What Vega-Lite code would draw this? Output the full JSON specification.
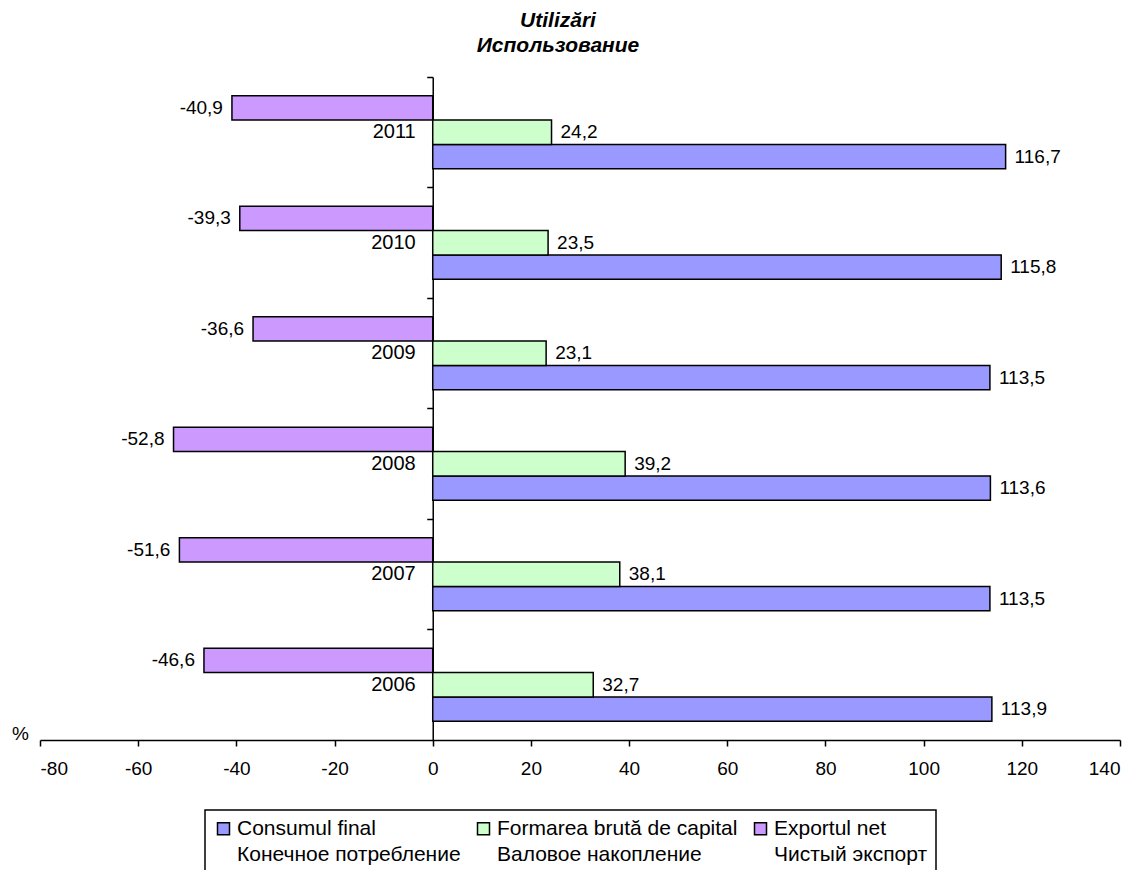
{
  "$schema": "https://vega.github.io/schema/vega-lite/v6.json",
  "width": 1080,
  "height": 663,
  "autosize": {"type": "none"},
  "padding": {"left": 40, "top": 77, "right": 21, "bottom": 130},
  "background": "white",
  "title": {
    "text": ["Utilizări", "Использование"],
    "font": "Liberation Sans",
    "fontSize": 21,
    "fontWeight": "bold",
    "fontStyle": "italic",
    "color": "black",
    "anchor": "middle",
    "frame": "group",
    "dx": -22,
    "offset": 20,
    "lineHeight": 25
  },
  "data": {
    "values": [
      {"year": "2011", "series": "Consumul final", "value": 116.7},
      {"year": "2011", "series": "Formarea brută de capital", "value": 24.2},
      {"year": "2011", "series": "Exportul net", "value": -40.9},
      {"year": "2010", "series": "Consumul final", "value": 115.8},
      {"year": "2010", "series": "Formarea brută de capital", "value": 23.5},
      {"year": "2010", "series": "Exportul net", "value": -39.3},
      {"year": "2009", "series": "Consumul final", "value": 113.5},
      {"year": "2009", "series": "Formarea brută de capital", "value": 23.1},
      {"year": "2009", "series": "Exportul net", "value": -36.6},
      {"year": "2008", "series": "Consumul final", "value": 113.6},
      {"year": "2008", "series": "Formarea brută de capital", "value": 39.2},
      {"year": "2008", "series": "Exportul net", "value": -52.8},
      {"year": "2007", "series": "Consumul final", "value": 113.5},
      {"year": "2007", "series": "Formarea brută de capital", "value": 38.1},
      {"year": "2007", "series": "Exportul net", "value": -51.6},
      {"year": "2006", "series": "Consumul final", "value": 113.9},
      {"year": "2006", "series": "Formarea brută de capital", "value": 32.7},
      {"year": "2006", "series": "Exportul net", "value": -46.6}
    ]
  },
  "encoding": {
    "y": {
      "field": "year",
      "type": "nominal",
      "sort": ["2011", "2010", "2009", "2008", "2007", "2006"],
      "scale": {"paddingInner": 0, "paddingOuter": 0},
      "axis": {
        "title": null,
        "labels": false,
        "offset": -392.73,
        "bandPosition": 0,
        "domainColor": "black",
        "domainWidth": 1.5,
        "tickColor": "black",
        "tickWidth": 1.5,
        "tickSize": 6,
        "grid": false
      }
    },
    "yOffset": {
      "field": "series",
      "type": "nominal",
      "sort": ["Exportul net", "Formarea brută de capital", "Consumul final"],
      "scale": {"paddingInner": 0, "paddingOuter": 0.775}
    },
    "x": {
      "field": "value",
      "type": "quantitative",
      "scale": {"domain": [-80, 140], "nice": false},
      "axis": {
        "values": [-80, -60, -40, -20, 0, 20, 40, 60, 80, 100, 120, 140],
        "format": "d",
        "grid": false,
        "title": "%",
        "titleX": -20,
        "titleY": -7,
        "titleAlign": "center",
        "titleBaseline": "middle",
        "titleFont": "Liberation Sans",
        "titleFontSize": 19,
        "titleFontWeight": "normal",
        "titleColor": "black",
        "labelFont": "Liberation Sans",
        "labelFontSize": 19,
        "labelColor": "black",
        "labelPadding": 13,
        "domainColor": "black",
        "domainWidth": 1.5,
        "tickColor": "black",
        "tickWidth": 1.5,
        "tickSize": 6
      }
    }
  },
  "layer": [
    {
      "mark": {"type": "bar", "stroke": "black", "strokeWidth": 1.5, "opacity": 1},
      "encoding": {
        "color": {
          "field": "series",
          "type": "nominal",
          "scale": {
            "domain": ["Consumul final", "Formarea brută de capital", "Exportul net"],
            "range": ["#9999FF", "#CCFFCC", "#CC99FF"]
          },
          "legend": {
            "title": null,
            "orient": "none",
            "legendX": 165,
            "legendY": 733,
            "direction": "horizontal",
            "columns": 3,
            "columnPadding": 12,
            "padding": 8,
            "strokeColor": "black",
            "symbolType": "square",
            "symbolSize": 144,
            "symbolStrokeColor": "black",
            "symbolStrokeWidth": 1.5,
            "symbolOpacity": 1,
            "labelFont": "Liberation Sans",
            "labelFontSize": 21,
            "labelColor": "black",
            "labelOffset": 3,
            "labelLimit": 400,
            "labelExpr": "datum.label == 'Consumul final' ? ['Consumul final', 'Конечное потребление'] : datum.label == 'Formarea brută de capital' ? ['Formarea brută de capital', 'Валовое накопление'] : ['Exportul  net', 'Чистый экспорт']"
          }
        }
      }
    },
    {
      "transform": [{"filter": "datum.value >= 0"}],
      "mark": {"type": "text", "align": "left", "baseline": "middle", "dx": 9, "font": "Liberation Sans", "fontSize": 19, "color": "black"},
      "encoding": {
        "text": {"field": "value", "type": "quantitative", "format": ".1f"}
      }
    },
    {
      "transform": [{"filter": "datum.value < 0"}],
      "mark": {"type": "text", "align": "right", "baseline": "middle", "dx": -9, "font": "Liberation Sans", "fontSize": 19, "color": "black"},
      "encoding": {
        "text": {"field": "value", "type": "quantitative", "format": ".1f"}
      }
    },
    {
      "transform": [{"filter": "datum.series == 'Formarea brută de capital'"}],
      "mark": {"type": "text", "align": "right", "baseline": "middle", "dx": -17, "font": "Liberation Sans", "fontSize": 20, "color": "black"},
      "encoding": {
        "x": {"datum": 0},
        "text": {"field": "year", "type": "nominal"}
      }
    }
  ],
  "config": {
    "view": {"stroke": null},
    "locale": {
      "number": {"decimal": ",", "thousands": ".", "grouping": [3], "currency": ["", ""], "minus": "-"}
    },
    "legend": {"strokeWidth": 1.5},
    "style": {"guide-label": {"lineHeight": 26}}
  }
}
